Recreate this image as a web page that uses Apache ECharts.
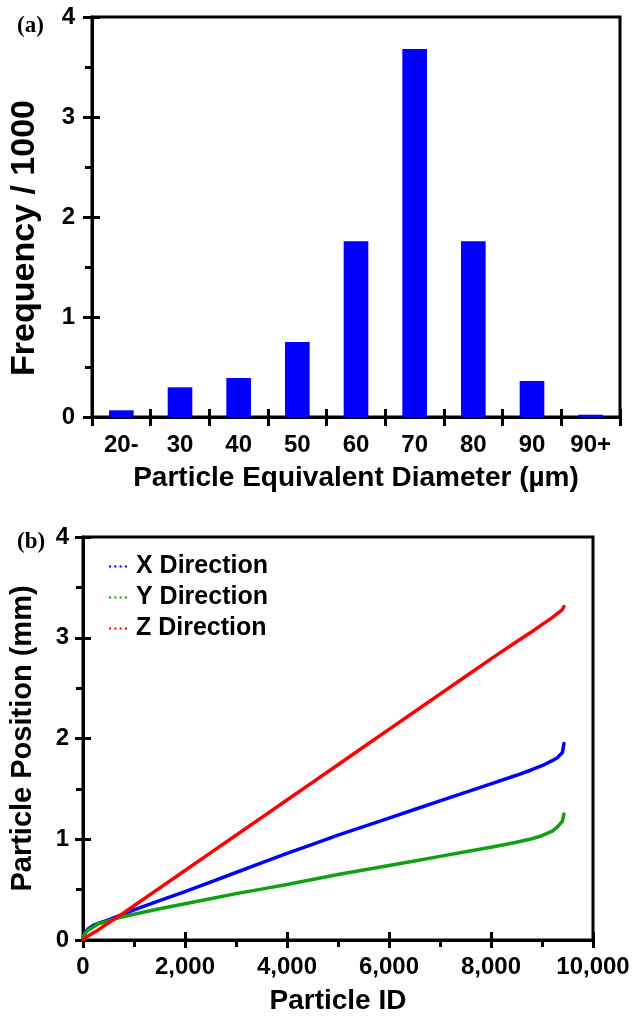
<!DOCTYPE html>
<html>
<head>
<meta charset="utf-8">
<script src="https://cdn.jsdelivr.net/npm/echarts@6/dist/echarts.min.js"></script>
<style>
  html, body { margin: 0; padding: 0; background: #fff; }
  #chart { width: 633px; height: 1016px; }
</style>
</head>
<body>
<div id="chart"></div>
<script>
// (a) size distribution: counts in thousands per diameter bin
const diameterBins = ['20-', '30', '40', '50', '60', '70', '80', '90', '90+'];
const frequencyK = [0.067, 0.297, 0.39, 0.75, 1.757, 3.68, 1.757, 0.36, 0.023];

// (b) sorted particle positions along each direction (mm)
const particleId = [0, 50, 100, 200, 300, 500, 700, 1000, 1500, 2000, 2500, 3000, 3500, 4000,
  4500, 5000, 5500, 6000, 6500, 7000, 7500, 8000, 8500, 8800, 9000, 9200, 9300, 9400, 9430];
const posX = [0.03, 0.08, 0.11, 0.145, 0.165, 0.20, 0.24, 0.30, 0.39, 0.48, 0.575, 0.67, 0.765, 0.86,
  0.95, 1.04, 1.125, 1.21, 1.295, 1.38, 1.465, 1.55, 1.635, 1.69, 1.73, 1.78, 1.81, 1.86, 1.95];
const posY = [0.03, 0.07, 0.10, 0.13, 0.16, 0.19, 0.22, 0.255, 0.31, 0.36, 0.41, 0.46, 0.505, 0.55,
  0.60, 0.65, 0.695, 0.74, 0.785, 0.83, 0.875, 0.92, 0.97, 1.005, 1.035, 1.08, 1.12, 1.18, 1.25];
const posZ = [0.0, 0.02, 0.04, 0.07, 0.10, 0.17, 0.235, 0.34, 0.515, 0.69, 0.865, 1.04, 1.215, 1.39,
  1.565, 1.74, 1.915, 2.09, 2.265, 2.44, 2.615, 2.79, 2.96, 3.06, 3.13, 3.20, 3.24, 3.28, 3.31];

const seriesNames = ['X Direction', 'Y Direction', 'Z Direction'];
const seriesColors = ['#0000ff', '#11a011', '#ff0000'];
const yTicksA = [0, 4, 1];
const xTicksB = [0, 10000, 2000];
const yTicksB = [0, 4, 1];

const SANS = '"Liberation Sans", Arial, Helvetica, sans-serif';
const SERIF = '"Liberation Serif", "Times New Roman", serif';
const BLACK = '#000';
// four short dots, used as the legend key of each direction
const DOTS_ICON = 'path://M0,0h2v2H0z M5,0h2v2H5z M10,0h2v2h-2z M15,0h2v2h-2z';

const pair = (xs, ys) => xs.map((x, i) => [x, ys[i]]);
const withComma = v => String(v).replace(/\B(?=(\d{3})+(?!\d))/g, ',');

const lineAx = { show: true, lineStyle: { color: BLACK, width: 3 } };
const labelStyle = { color: BLACK, fontFamily: SANS, fontWeight: 'bold', fontSize: 24 };

// an overlay axis that only draws the inner half of the major ticks
function innerX(grid, extra) {
  return Object.assign({
    gridIndex: grid, position: 'bottom',
    axisLine: { show: false },
    axisTick: { show: true, inside: true, length: 8, lineStyle: { color: BLACK, width: 3 } },
    minorTick: { show: false },
    axisLabel: { show: false }, splitLine: { show: false }
  }, extra);
}
function innerY(grid, extra) {
  return Object.assign({
    type: 'value', gridIndex: grid, position: 'left',
    axisLine: { show: false },
    axisTick: { show: true, inside: true, length: 8, lineStyle: { color: BLACK, width: 3 } },
    minorTick: { show: false },
    axisLabel: { show: false }, splitLine: { show: false }
  }, extra);
}

function lineSeries(i, values) {
  return {
    name: seriesNames[i], type: 'line', xAxisIndex: 2, yAxisIndex: 2,
    data: pair(particleId, values), symbol: 'none', showSymbol: false,
    smooth: false,
    lineStyle: { color: seriesColors[i], width: 3.5, join: 'round', cap: 'round' },
    itemStyle: { color: seriesColors[i] }, z: 3 + (i === 2 ? 1 : 0)
  };
}

const chart = echarts.init(document.getElementById('chart'), null, { renderer: 'canvas' });

chart.setOption({
  backgroundColor: '#fff',
  animation: false,
  title: [
    { text: '(a)', left: 12, top: 10, textStyle: { fontFamily: SERIF, fontWeight: 'bold', fontSize: 23, color: BLACK } },
    { text: '(b)', left: 12, top: 526, textStyle: { fontFamily: SERIF, fontWeight: 'bold', fontSize: 23, color: BLACK } }
  ],
  legend: {
    data: seriesNames.map(n => ({ name: n, icon: DOTS_ICON })),
    orient: 'vertical',
    left: 104, top: 549,
    itemWidth: 18, itemHeight: 2.5, itemGap: 6,
    textStyle: { color: BLACK, fontFamily: SANS, fontWeight: 'bold', fontSize: 25, padding: [0, 0, 0, 4] }
  },
  grid: [
    { left: 85, top: 17, width: 535, height: 400, show: true, borderColor: BLACK, borderWidth: 3 },
    { left: 81, top: 537, width: 512, height: 403, show: true, borderColor: BLACK, borderWidth: 3 }
  ],
  xAxis: [
    {
      type: 'category', gridIndex: 0, position: 'bottom', data: diameterBins,
      axisLine: lineAx,
      axisTick: { show: true, length: 9, lineStyle: { color: BLACK, width: 3 } },
      axisLabel: Object.assign({ margin: 16 }, labelStyle),
      name: 'Particle Equivalent Diameter (µm)', nameLocation: 'middle', nameGap: 47,
      nameTextStyle: { color: BLACK, fontFamily: SANS, fontWeight: 'bold', fontSize: 28 },
      splitLine: { show: false }
    },
    innerX(0, { type: 'category', data: diameterBins }),
    {
      type: 'value', gridIndex: 1, position: 'bottom',
      min: xTicksB[0], max: xTicksB[1], interval: xTicksB[2],
      axisLine: lineAx,
      axisTick: { show: true, length: 8, lineStyle: { color: BLACK, width: 3 } },
      minorTick: { show: true, splitNumber: 2, length: 7, lineStyle: { color: BLACK, width: 3 } },
      axisLabel: Object.assign({ margin: 15, formatter: withComma }, labelStyle),
      name: 'Particle ID', nameLocation: 'middle', nameGap: 47,
      nameTextStyle: { color: BLACK, fontFamily: SANS, fontWeight: 'bold', fontSize: 28 },
      splitLine: { show: false }
    },
    innerX(1, { type: 'value', min: xTicksB[0], max: xTicksB[1], interval: xTicksB[2] })
  ],
  yAxis: [
    {
      type: 'value', gridIndex: 0, position: 'left',
      min: yTicksA[0], max: yTicksA[1], interval: yTicksA[2],
      axisLine: lineAx,
      axisTick: { show: true, length: 9, lineStyle: { color: BLACK, width: 3 } },
      minorTick: { show: true, splitNumber: 2, length: 7, lineStyle: { color: BLACK, width: 3 } },
      axisLabel: Object.assign({ margin: 17 }, labelStyle),
      name: 'Frequency / 1000', nameLocation: 'middle', nameGap: 50,
      nameTextStyle: { color: BLACK, fontFamily: SANS, fontWeight: 'bold', fontSize: 34, padding: [0, 42, 0, 0] },
      splitLine: { show: false }
    },
    innerY(0, { min: yTicksA[0], max: yTicksA[1], interval: yTicksA[2] }),
    {
      type: 'value', gridIndex: 1, position: 'left',
      min: yTicksB[0], max: yTicksB[1], interval: yTicksB[2],
      axisLine: lineAx,
      axisTick: { show: true, length: 8, lineStyle: { color: BLACK, width: 3 } },
      minorTick: { show: true, splitNumber: 2, length: 7, lineStyle: { color: BLACK, width: 3 } },
      axisLabel: Object.assign({ margin: 14 }, labelStyle),
      name: 'Particle Position (mm)', nameLocation: 'middle', nameGap: 46,
      nameTextStyle: { color: BLACK, fontFamily: SANS, fontWeight: 'bold', fontSize: 29 },
      splitLine: { show: false }
    },
    innerY(1, { min: yTicksB[0], max: yTicksB[1], interval: yTicksB[2] })
  ],
  series: [
    {
      type: 'bar', xAxisIndex: 0, yAxisIndex: 0,
      data: frequencyK, barWidth: '42%',
      itemStyle: { color: '#0000ff' }
    },
    lineSeries(0, posX),
    lineSeries(1, posY),
    lineSeries(2, posZ)
  ]
});
</script>
</body>
</html>
